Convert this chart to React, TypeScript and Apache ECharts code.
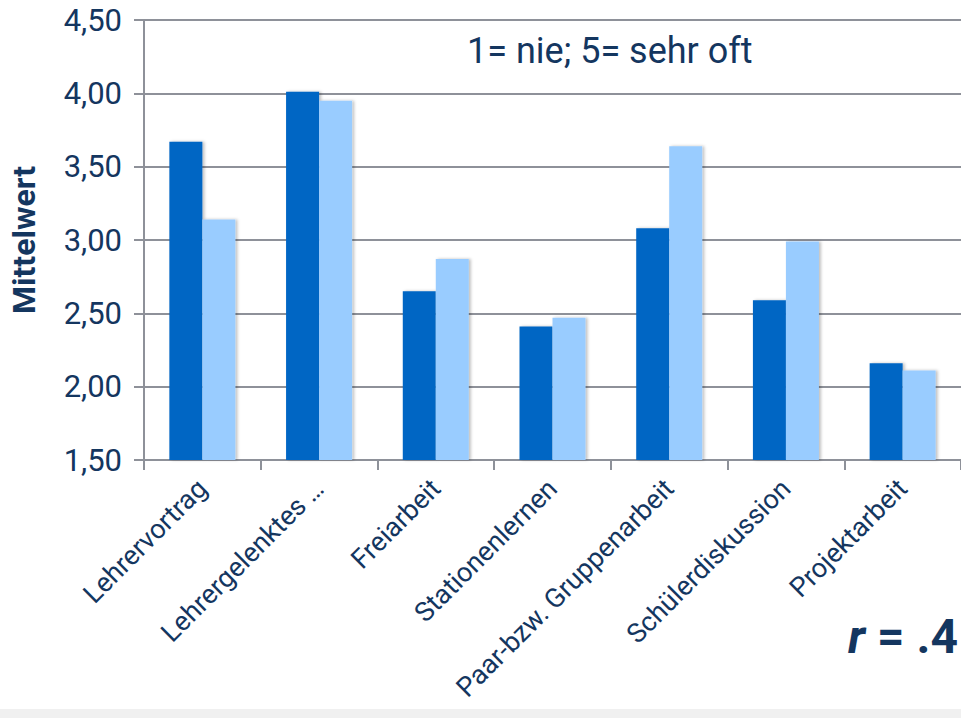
import React, { useEffect, useRef } from "react";
import * as echarts from "echarts";

const categories = [
  "Lehrervortrag",
  "Lehrergelenktes …",
  "Freiarbeit",
  "Stationenlernen",
  "Paar-bzw. Gruppenarbeit",
  "Schülerdiskussion",
  "Projektarbeit",
];
const seriesA = [3.67, 4.01, 2.65, 2.41, 3.08, 2.59, 2.16];
const seriesB = [3.14, 3.95, 2.87, 2.47, 3.64, 2.99, 2.11];
const yMin = 1.5;
const yMax = 4.5;
const yStep = 0.5;
const yAxisName = "Mittelwert";
const noteText = "1= nie; 5= sehr oft";
const corrVar = "r";
const corrValue = " = .4";

const NAVY = "#14365f";
const GRID = "#8e9199";
const FONT = "Roboto, 'Noto Sans', sans-serif";

export default function App() {
  const ref = useRef<HTMLDivElement>(null);
  useEffect(() => {
    if (!ref.current) return;
    const chart = echarts.init(ref.current, undefined, { renderer: "svg" });
    const shadow = {
      shadowColor: "rgba(0,0,0,0.25)",
      shadowBlur: 3,
      shadowOffsetX: 2,
      shadowOffsetY: 0,
    };
    chart.setOption({
      animation: false,
      backgroundColor: "#ffffff",
      textStyle: { fontFamily: FONT },
      grid: { left: 142, right: -7, top: 20, bottom: 258, containLabel: false },
      xAxis: {
        type: "category",
        data: categories,
        axisLine: { lineStyle: { color: GRID, width: 2 } },
        axisTick: { show: true, length: 10, lineStyle: { color: GRID, width: 2 } },
        axisLabel: {
          rotate: 45,
          margin: 24,
          color: NAVY,
          fontSize: 27,
          fontFamily: FONT,
          interval: 0,
        },
      },
      yAxis: {
        type: "value",
        min: yMin,
        max: yMax,
        interval: yStep,
        name: yAxisName,
        nameLocation: "middle",
        nameGap: 104,
        nameRotate: 90,
        nameTextStyle: { color: NAVY, fontSize: 32, fontWeight: "bold", fontFamily: FONT },
        axisLine: { show: true, lineStyle: { color: GRID, width: 2 } },
        axisTick: { show: true, length: 10, lineStyle: { color: GRID, width: 2 } },
        splitLine: { show: true, lineStyle: { color: GRID, width: 2 } },
        axisLabel: {
          color: NAVY,
          fontSize: 31,
          margin: 22,
          fontFamily: FONT,
          formatter: (v: number) => v.toFixed(2).replace(".", ","),
        },
      },
      series: [
        {
          type: "bar",
          data: seriesA,
          barWidth: 33,
          barGap: "0%",
          itemStyle: { color: "#0066c4", ...shadow },
        },
        {
          type: "bar",
          data: seriesB,
          barWidth: 33,
          barGap: "0%",
          itemStyle: { color: "#99ccff", ...shadow },
        },
      ],
      graphic: [
        {
          type: "rect",
          left: 0,
          top: 709,
          shape: { width: 961, height: 9 },
          style: { fill: "#f0f0f0" },
          z: -1,
        },
        {
          type: "text",
          left: 467,
          top: 33,
          style: { text: noteText, fill: NAVY, fontSize: 36, fontFamily: FONT },
        },
        {
          type: "text",
          right: 3,
          top: 612,
          style: {
            text: "{i|" + corrVar + "}{b|" + corrValue + "}",
            rich: {
              i: {
                fill: NAVY,
                fontSize: 48,
                fontWeight: "bold",
                fontStyle: "italic",
                fontFamily: FONT,
              },
              b: { fill: NAVY, fontSize: 48, fontWeight: "bold", fontFamily: FONT },
            },
          },
        },
      ],
    });
    return () => chart.dispose();
  }, []);
  return (
    <div
      ref={ref}
      style={{ position: "absolute", left: 0, top: 0, width: 961, height: 718 }}
    />
  );
}
